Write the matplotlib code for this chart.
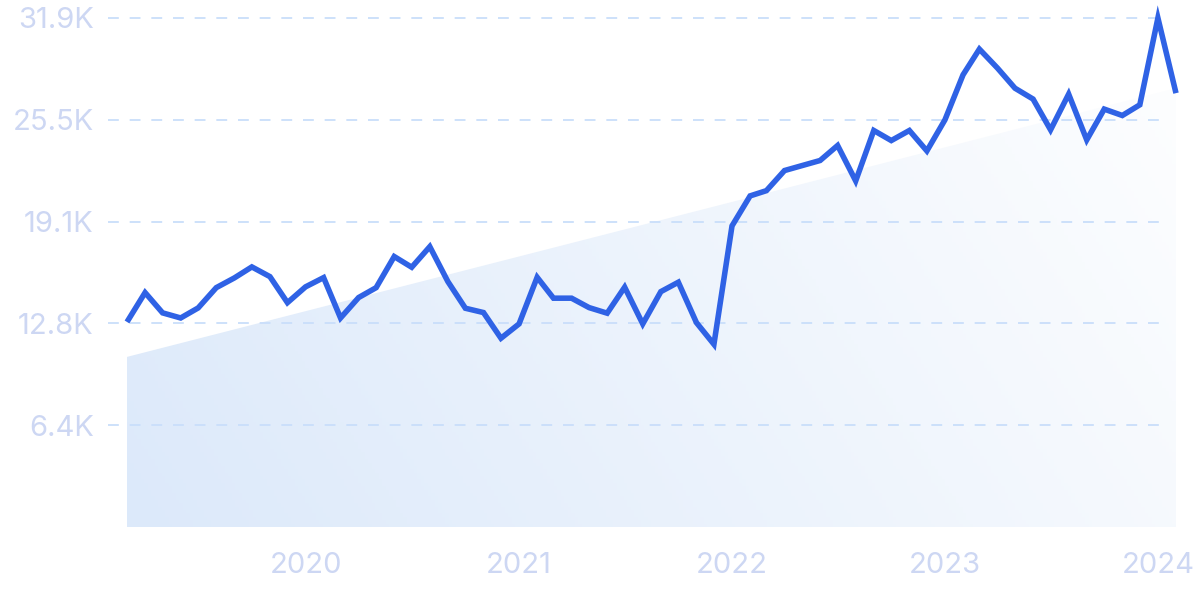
import numpy as np
import pandas as pd
import matplotlib
matplotlib.use('Agg')
import matplotlib.pyplot as plt
import matplotlib.dates as mdates
from matplotlib.colors import LinearSegmentedColormap
from matplotlib.patches import Polygon

# monthly values (thousands), Mar 2019 .. Feb 2024
months = pd.date_range('2019-03-01', '2024-02-01', freq='MS')
values = [12.85, 14.69, 13.42, 13.10, 13.73, 15.00, 15.61, 16.30, 15.69, 14.06,
          15.05, 15.63, 13.10, 14.38, 15.00, 16.95, 16.28, 17.57, 15.38, 13.71,
          13.44, 11.83, 12.73, 15.65, 14.34, 14.34, 13.75, 13.40, 15.03, 12.73,
          14.75, 15.34, 12.81, 11.45, 18.87, 20.75, 21.08, 22.34, 22.65, 22.97,
          23.91, 21.69, 24.85, 24.22, 24.85, 23.57, 25.52, 28.34, 29.95, 28.76,
          27.50, 26.82, 24.89, 27.13, 24.26, 26.19, 25.79, 26.46, 31.90, 27.19]
trend_start, trend_end = 10.66, 27.5
y_ticks = [6.38, 12.76, 19.14, 25.52, 31.9]
y_labels = ['6.4K', '12.8K', '19.1K', '25.5K', '31.9K']
years = ['2020', '2021', '2022', '2023', '2024']

line_color = '#2f62e5'
grid_color = '#c9defa'
label_color = '#cdd7f3'

x = mdates.date2num(months)
fig = plt.figure(figsize=(12, 5.99), dpi=100)
ax = fig.add_axes([127 / 1200, 1 - 527 / 599, 1049 / 1200, 509 / 599])
ax.set_xlim(x[0], x[-1])
ax.set_ylim(0, 31.9)

# trend area with diagonal gradient
xx, yy = np.meshgrid(np.linspace(0, 1, 300), np.linspace(0, 1, 150))
grad = 0.8 * xx + 0.25 * (1 - yy)
cmap = LinearSegmentedColormap.from_list('fade', ['#dce9fa', '#ffffff'])
im = ax.imshow(grad, cmap=cmap, vmin=0, vmax=1.08, aspect='auto',
               extent=[x[0], x[-1], 0, 31.9], origin='upper', zorder=1)
poly = Polygon([[x[0], 0], [x[0], trend_start], [x[-1], trend_end], [x[-1], 0]],
               closed=True, facecolor='none', edgecolor='none')
ax.add_patch(poly)
im.set_clip_path(poly)

for yv in y_ticks:
    ax.axhline(yv, xmin=-0.018, xmax=0.9895, color=grid_color, lw=1.3,
               dashes=(6, 6), clip_on=False, zorder=2)

ax.plot(x, values, color=line_color, lw=4.0, solid_joinstyle='miter',
        solid_capstyle='butt', zorder=3, clip_on=False)

for s in ax.spines.values():
    s.set_visible(False)
ax.set_yticks(y_ticks)
ax.set_yticklabels(y_labels)
ax.set_xticks([mdates.date2num(pd.Timestamp(y + '-01-01')) for y in years])
ax.set_xticklabels(years)
ax.tick_params(length=0, labelsize=21, labelcolor=label_color)
ax.tick_params(axis='y', pad=24)
ax.tick_params(axis='x', pad=18)
for t in ax.get_xticklabels() + ax.get_yticklabels():
    t.set_fontfamily('Inter')

fig.savefig('out.png', dpi=100)
